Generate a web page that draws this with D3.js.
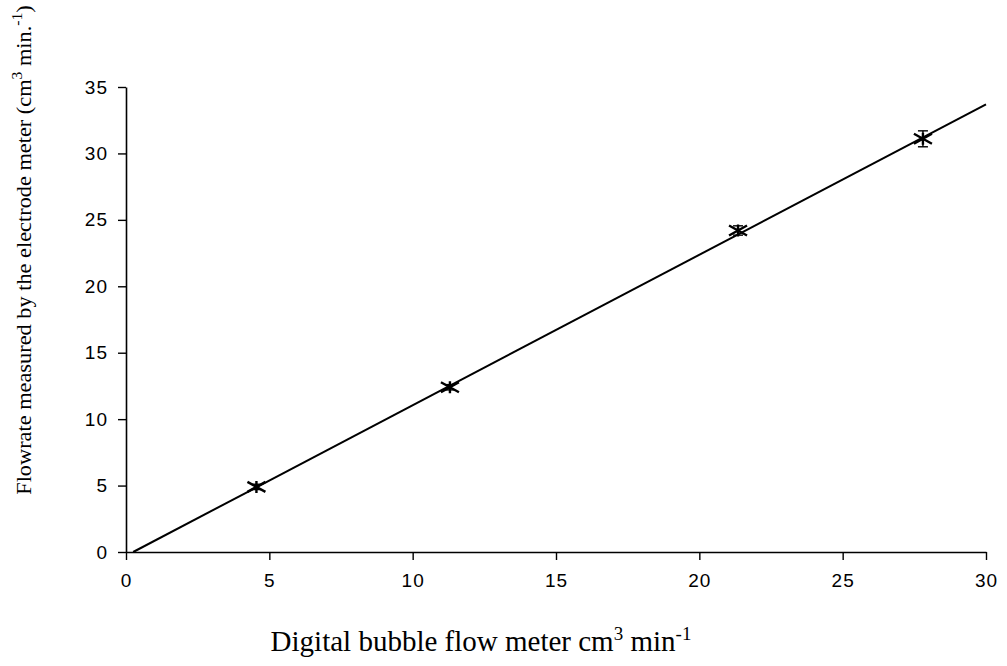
<!DOCTYPE html>
<html lang="en">
<head>
  <meta charset="UTF-8">
  <title>Flowrate calibration</title>
  <script src="https://cdn.jsdelivr.net/npm/d3@7"></script>
  <style>
    body { margin: 0; background: #fff; }
    svg { display: block; }
  </style>
</head>
<body>
  <svg id="chart" width="1007" height="666"></svg>
<script>
  // values
  var bubbleFlow = [4.55, 11.3, 21.35, 27.8];
  var electrodeFlow = [4.9, 12.4, 24.2, 31.1];
  var errorBar = [0.2, 0.2, 0.35, 0.6];
  var fitX = [0.25, 30];
  var fitY = [0, 33.7];
  var xTicks = [0, 5, 10, 15, 20, 25, 30];
  var yTicks = [0, 5, 10, 15, 20, 25, 30, 35];

  var margin = { top: 87, right: 21, bottom: 114, left: 126 };
  var width = 1007 - margin.left - margin.right;
  var height = 666 - margin.top - margin.bottom;

  var svg = d3.select("#chart");
  var g = svg.append("g")
    .attr("transform", "translate(" + margin.left + "," + margin.top + ")");

  var x = d3.scaleLinear().domain([0, 30]).range([0, width]);
  var y = d3.scaleLinear().domain([0, 35]).range([height, 0]);

  // axes
  var xAxis = g.append("g")
    .attr("transform", "translate(0," + height + ")")
    .call(d3.axisBottom(x).tickValues(xTicks).tickSize(8).tickSizeOuter(0).tickPadding(14));
  var yAxis = g.append("g")
    .call(d3.axisLeft(y).tickValues(yTicks).tickSize(8).tickSizeOuter(0).tickPadding(10));

  [xAxis, yAxis].forEach(function(a) {
    a.select(".domain").attr("stroke", "#000").attr("stroke-width", 1.6);
    a.selectAll(".tick line").attr("stroke", "#000").attr("stroke-width", 1.4);
    a.selectAll(".tick text")
      .attr("fill", "#000")
      .style("font-family", "'Liberation Sans', Arial, sans-serif")
      .style("font-size", "19px")
      .style("letter-spacing", "1px");
  });

  // fitted line
  var line = d3.line()
    .x(function(d) { return x(d[0]); })
    .y(function(d) { return y(d[1]); });
  g.append("path")
    .datum(d3.zip(fitX, fitY))
    .attr("d", line)
    .attr("fill", "none")
    .attr("stroke", "#000")
    .attr("stroke-width", 2);

  var points = d3.zip(bubbleFlow, electrodeFlow, errorBar);

  // error bars
  var eb = g.append("g").attr("stroke", "#000").attr("stroke-width", 1.4);
  points.forEach(function(p) {
    var cx = x(p[0]);
    eb.append("line").attr("x1", cx).attr("x2", cx)
      .attr("y1", y(p[1] - p[2])).attr("y2", y(p[1] + p[2]));
    [p[1] - p[2], p[1] + p[2]].forEach(function(v) {
      eb.append("line").attr("x1", cx - 5).attr("x2", cx + 5)
        .attr("y1", y(v)).attr("y2", y(v));
    });
  });

  // star markers (x plus vertical bar)
  function star(cx, cy) {
    var p = d3.path();
    p.moveTo(cx - 9, cy - 5); p.lineTo(cx + 9, cy + 5);
    p.moveTo(cx - 9, cy + 5); p.lineTo(cx + 9, cy - 5);
    p.moveTo(cx, cy - 6); p.lineTo(cx, cy + 6);
    return p.toString();
  }
  g.append("g").selectAll("path")
    .data(points)
    .join("path")
    .attr("d", function(d) { return star(x(d[0]), y(d[1])); })
    .attr("fill", "none")
    .attr("stroke", "#000")
    .attr("stroke-width", 2.4);

  // x label
  var xl = svg.append("text")
    .attr("x", 481)
    .attr("y", 651)
    .attr("text-anchor", "middle")
    .style("font-family", "'Liberation Serif', 'Times New Roman', serif")
    .style("font-size", "29px")
    .attr("fill", "#000");
  xl.append("tspan").text("Digital bubble flow meter cm");
  xl.append("tspan").attr("dy", -11).style("font-size", "19px").text("3");
  xl.append("tspan").attr("dy", 11).text(" min");
  xl.append("tspan").attr("dy", -11).style("font-size", "19px").text("-1");

  // y label, stretched along its baseline to the length seen in the picture
  var yl = svg.append("text")
    .attr("text-anchor", "middle")
    .style("font-family", "'Liberation Serif', 'Times New Roman', serif")
    .style("font-size", "20px")
    .attr("fill", "#000");
  yl.append("tspan").text("Flowrate measured by the electrode meter (cm");
  yl.append("tspan").attr("dy", -9).style("font-size", "14px").text("3");
  yl.append("tspan").attr("dy", 9).text(" min.");
  yl.append("tspan").attr("dy", -9).style("font-size", "14px").text("-1");
  yl.append("tspan").attr("dy", 9).text(")");
  var len = yl.node().getBBox().width;
  yl.attr("transform", "translate(31,250) rotate(-90) scale(" + (490 / len) + ",1)");
</script>
</body>
</html>
